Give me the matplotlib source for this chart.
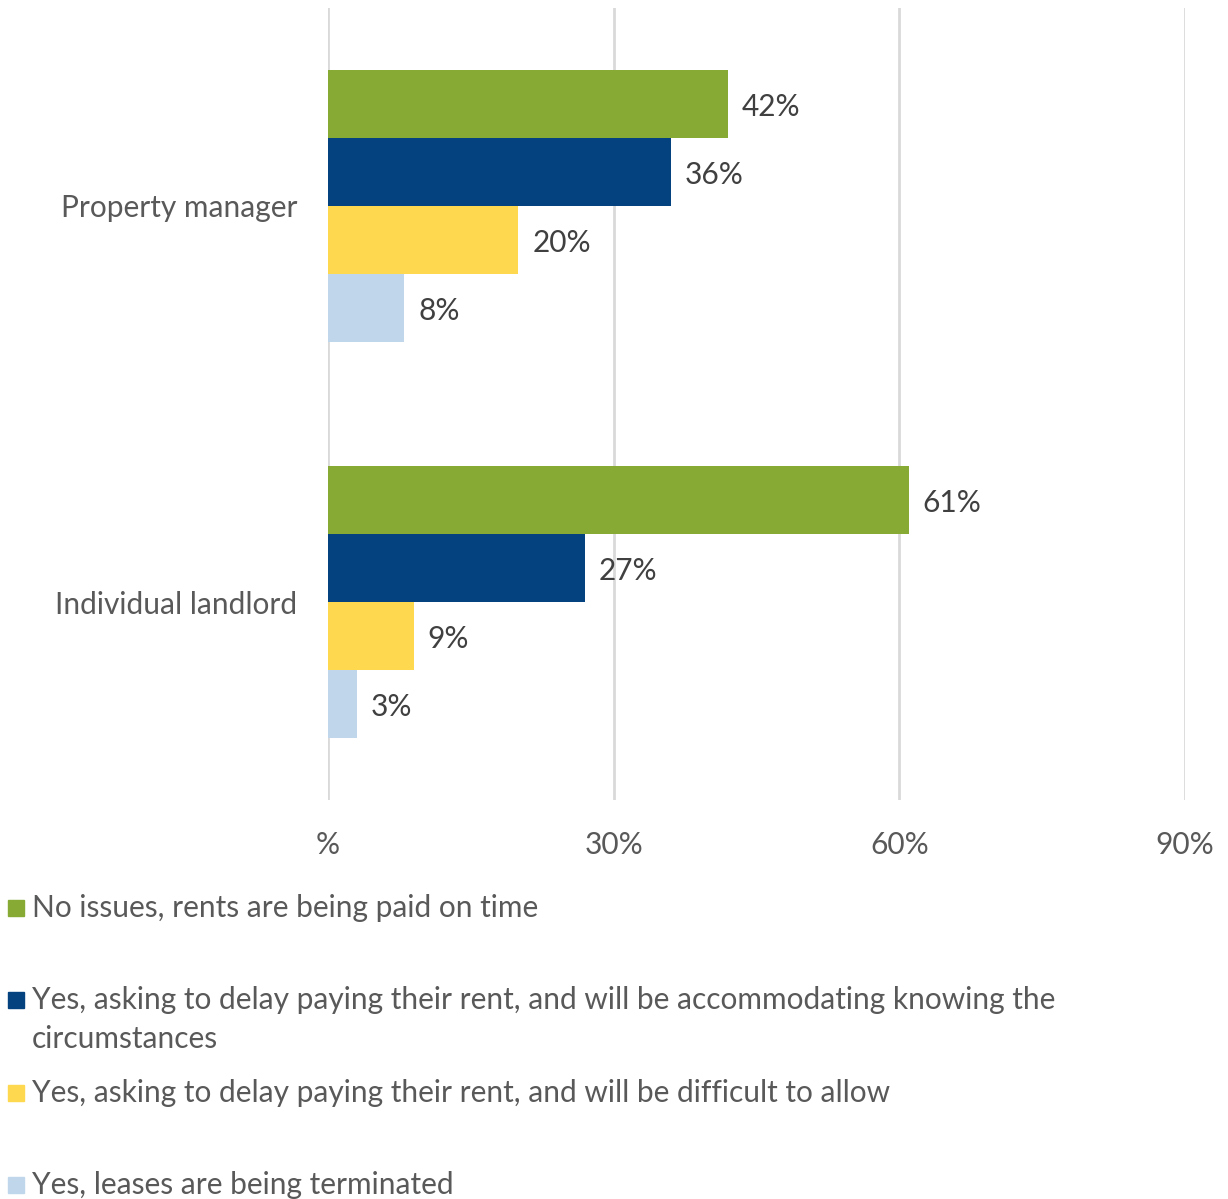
import matplotlib.pyplot as plt
from matplotlib.patches import Rectangle
from matplotlib.ticker import FuncFormatter

plt.rcParams['font.family'] = ['Lato', 'DejaVu Sans']

# categories from bottom to top
categories = ["Individual landlord", "Property manager"]
series_names = [
    "No issues, rents are being paid on time",
    "Yes, asking to delay paying their rent, and will be accommodating knowing the\ncircumstances",
    "Yes, asking to delay paying their rent, and will be difficult to allow",
    "Yes, leases are being terminated",
]
series_colors = ["#86aa34", "#03427f", "#fed84f", "#c0d7eb"]
values_no_issues = [61, 42]
values_accommodating = [27, 36]
values_difficult = [9, 20]
values_terminated = [3, 8]
x_ticks = [0, 30, 60, 90]

all_values = [values_no_issues, values_accommodating, values_difficult, values_terminated]

W, H = 1228, 1199
FS = 21.5
fig = plt.figure(figsize=(W / 100, H / 100), dpi=100)
ax = fig.add_axes([328 / W, 1 - 800 / H, (1185 - 328) / W, 792 / H])

bar_h = 0.172
offsets = [1.5, 0.5, -0.5, -1.5]
for vals, color, off in zip(all_values, series_colors, offsets):
    ys = [i + off * bar_h for i in range(len(categories))]
    bars = ax.barh(ys, vals, height=bar_h, color=color, zorder=3)
    for b, v in zip(bars, vals):
        # small downward nudge so the label sits like the original
        ax.annotate(f"{v}%", (b.get_width(), b.get_y() + b.get_height() / 2),
                    xytext=(14, -3), textcoords='offset pixels',
                    va='center', ha='left', fontsize=FS, color='#404040')

ax.set_xlim(0, 90)
ax.set_ylim(-0.5, 1.5)
ax.set_xticks(x_ticks)
ax.xaxis.set_major_formatter(FuncFormatter(lambda v, p: "%" if v == 0 else f"{int(v)}%"))
ax.set_yticks(range(len(categories)))
ax.set_yticklabels(categories)
ax.tick_params(axis='x', length=0, pad=22, labelsize=FS, labelcolor='#595959')
ax.tick_params(axis='y', length=0, pad=22, labelsize=FS, labelcolor='#595959')
for s in ax.spines.values():
    s.set_visible(False)
ax.grid(axis='x', color='#d9d9d9', linewidth=2, zorder=0)

# legend drawn by hand to follow the original spacing (y = first line centre, px)
legend_y = [908, 1000, 1093, 1185]
line_px = 39
for name, color, y in zip(series_names, series_colors, legend_y):
    n_lines = name.count('\n') + 1
    fig.add_artist(Rectangle((8 / W, 1 - (y + 8) / H), 16 / W, 16 / H,
                             transform=fig.transFigure, color=color))
    yc = y + (n_lines - 1) * line_px / 2
    fig.text(32 / W, 1 - yc / H, name, ha='left', va='center',
             fontsize=FS, color='#595959', linespacing=1.45)

fig.savefig("out.png", dpi=100)
